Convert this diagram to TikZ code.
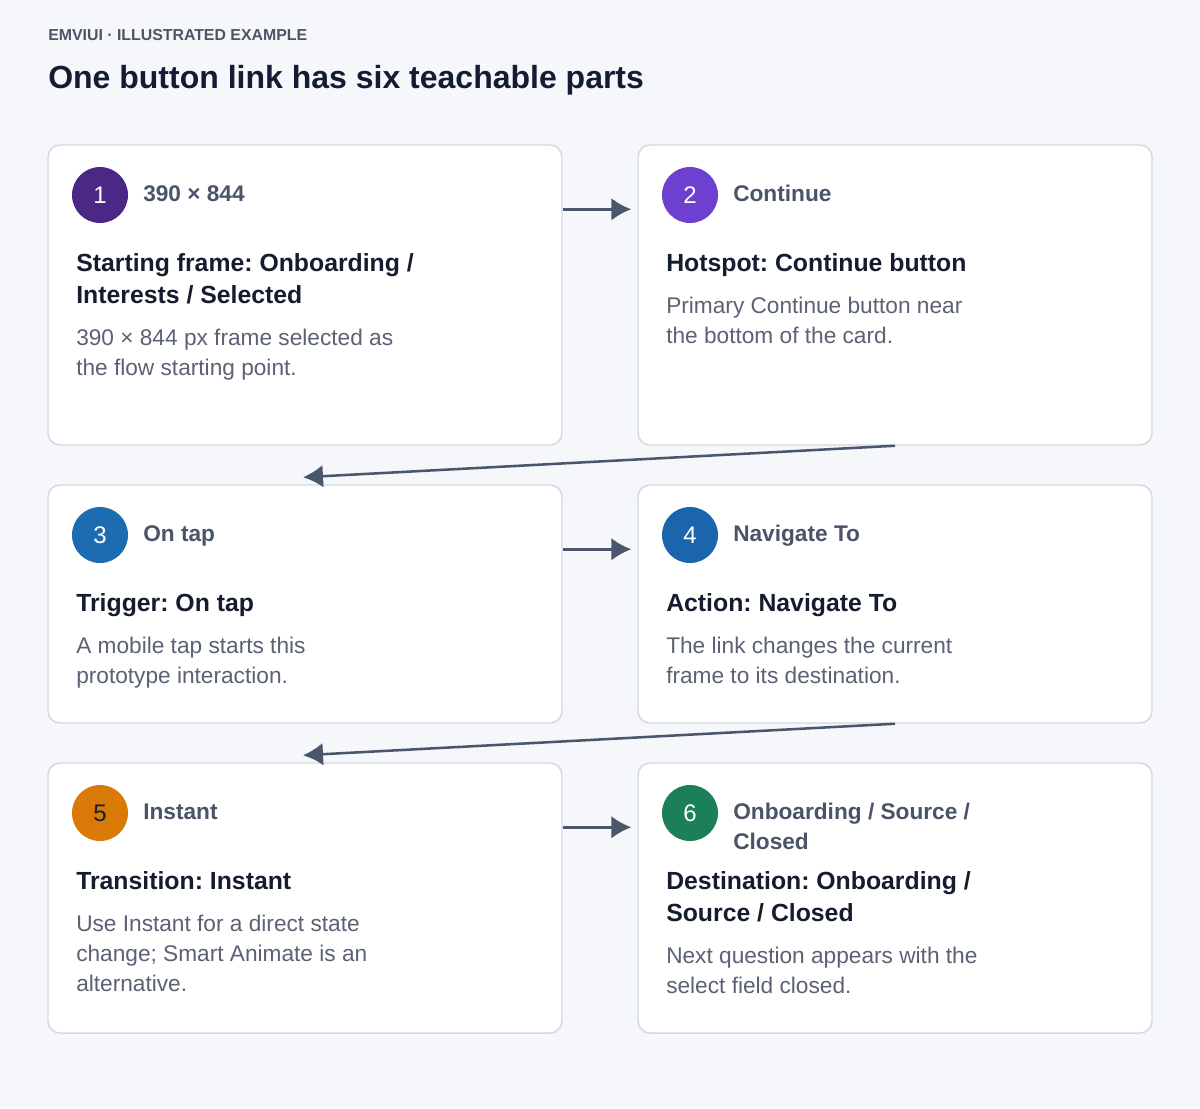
\documentclass[tikz,border=0pt]{standalone}
\usepackage{fontspec}
\setmainfont{Liberation Sans}
\usetikzlibrary{calc,arrows.meta}
\frenchspacing

\definecolor{bgcol}{HTML}{F5F7FB}
\definecolor{cardline}{HTML}{D2D8E2}
\definecolor{kickcol}{HTML}{4B5563}
\definecolor{titlecol}{HTML}{141C33}
\definecolor{tagcol}{HTML}{4A5468}
\definecolor{headcol}{HTML}{151C2E}
\definecolor{bodycol}{HTML}{5A6273}
\definecolor{flowcol}{HTML}{4A566C}
\definecolor{one}{HTML}{4B2885}
\definecolor{two}{HTML}{6D40D0}
\definecolor{three}{HTML}{1D6BB0}
\definecolor{four}{HTML}{1A65AB}
\definecolor{five}{HTML}{D97A06}
\definecolor{six}{HTML}{1B7F57}

\def \cardw {385.5pt}
\def \badgesize {42pt}
\def \gap {65}

\begin{document}
\begin{tikzpicture}[x=0.75pt, y=-0.75pt,
  card/.style={draw=cardline, fill=white, line width=1.1pt, rounded corners=9pt, minimum width=\cardw, inner sep=0},
  badge/.style={circle, minimum size=\badgesize, inner sep=0, text=white, font=\fontsize{18pt}{18pt}\selectfont},
  tag/.style={anchor=base west, inner sep=0, align=left, text=tagcol, font=\fontsize{17pt}{22.5pt}\selectfont\bfseries},
  head/.style={anchor=base west, inner sep=0, align=left, text=headcol, font=\fontsize{18.6pt}{24pt}\selectfont\bfseries},
  body/.style={anchor=base west, inner sep=0, align=left, text=bodycol, font=\fontsize{17pt}{22.5pt}\selectfont},
  flow/.style={draw=flowcol, line width=1.9pt, -{Latex[length=15pt,width=17pt]}}]
\fill[bgcol] (0,0) rectangle (1200,1108);
\useasboundingbox (0,0) rectangle (1200,1108);

\draw (48,40) node[anchor=base west, inner sep=0, text=kickcol, font=\fontsize{11.9pt}{12pt}\selectfont\bfseries] (kicker) {EMVIUI · ILLUSTRATED EXAMPLE};
\draw (48,88) node[anchor=base west, inner sep=0, text=titlecol, font=\fontsize{24pt}{28pt}\selectfont\bfseries] (title) {One button link has six teachable parts};

% cards
\draw (305,295) node[card, minimum height=225pt] (card1) {};
\draw (895,295) node[card, minimum height=225pt] (card2) {};
\draw (305,604) node[card, minimum height=178.5pt] (card3) {};
\draw (895,604) node[card, minimum height=178.5pt] (card4) {};
\draw (305,898) node[card, minimum height=202.5pt] (card5) {};
\draw (895,898) node[card, minimum height=202.5pt] (card6) {};

% card 1 (multi-line texts sit on their last baseline)
\draw (100,195) node[badge, fill=one] (badge1) {1};
\draw (143,201) node[tag] (tag1) {390 × 844};
\draw (76,303) node[head] (head1) {Starting frame: Onboarding /\\Interests / Selected};
\draw (76,375) node[body] (body1) {390 × 844 px frame selected as\\the flow starting point.};

% card 2
\draw (690,195) node[badge, fill=two] (badge2) {2};
\draw (733,201) node[tag] (tag2) {Continue};
\draw (666,271) node[head] (head2) {Hotspot: Continue button};
\draw (666,343) node[body] (body2) {Primary Continue button near\\the bottom of the card.};

% card 3
\draw (100,535) node[badge, fill=three] (badge3) {3};
\draw (143,541) node[tag] (tag3) {On tap};
\draw (76,611) node[head] (head3) {Trigger: On tap};
\draw (76,683) node[body] (body3) {A mobile tap starts this\\prototype interaction.};

% card 4
\draw (690,535) node[badge, fill=four] (badge4) {4};
\draw (733,541) node[tag] (tag4) {Navigate To};
\draw (666,611) node[head] (head4) {Action: Navigate To};
\draw (666,683) node[body] (body4) {The link changes the current\\frame to its destination.};

% card 5
\draw (100,813) node[badge, fill=five, text=headcol] (badge5) {5};
\draw (143,819) node[tag] (tag5) {Instant};
\draw (76,889) node[head] (head5) {Transition: Instant};
\draw (76,991) node[body] (body5) {Use Instant for a direct state\\change; Smart Animate is an\\alternative.};

% card 6
\draw (690,813) node[badge, fill=six] (badge6) {6};
\draw (733,849) node[tag] (tag6) {Onboarding / Source /\\Closed};
\draw (666,921) node[head] (head6) {Destination: Onboarding /\\Source / Closed};
\draw (666,993) node[body] (body6) {Next question appears with the\\select field closed.};

% links
\draw[flow] ($(card1.north east)+(0,\gap)$) -- ($(card2.north west)+(-6,\gap)$);
\draw[flow] (card2.south) -- ($(card3.north)+(-2,-7)$);
\draw[flow] ($(card3.north east)+(0,\gap)$) -- ($(card4.north west)+(-6,\gap)$);
\draw[flow] (card4.south) -- ($(card5.north)+(-2,-7)$);
\draw[flow] ($(card5.north east)+(0,\gap)$) -- ($(card6.north west)+(-6,\gap)$);
\end{tikzpicture}
\end{document}
